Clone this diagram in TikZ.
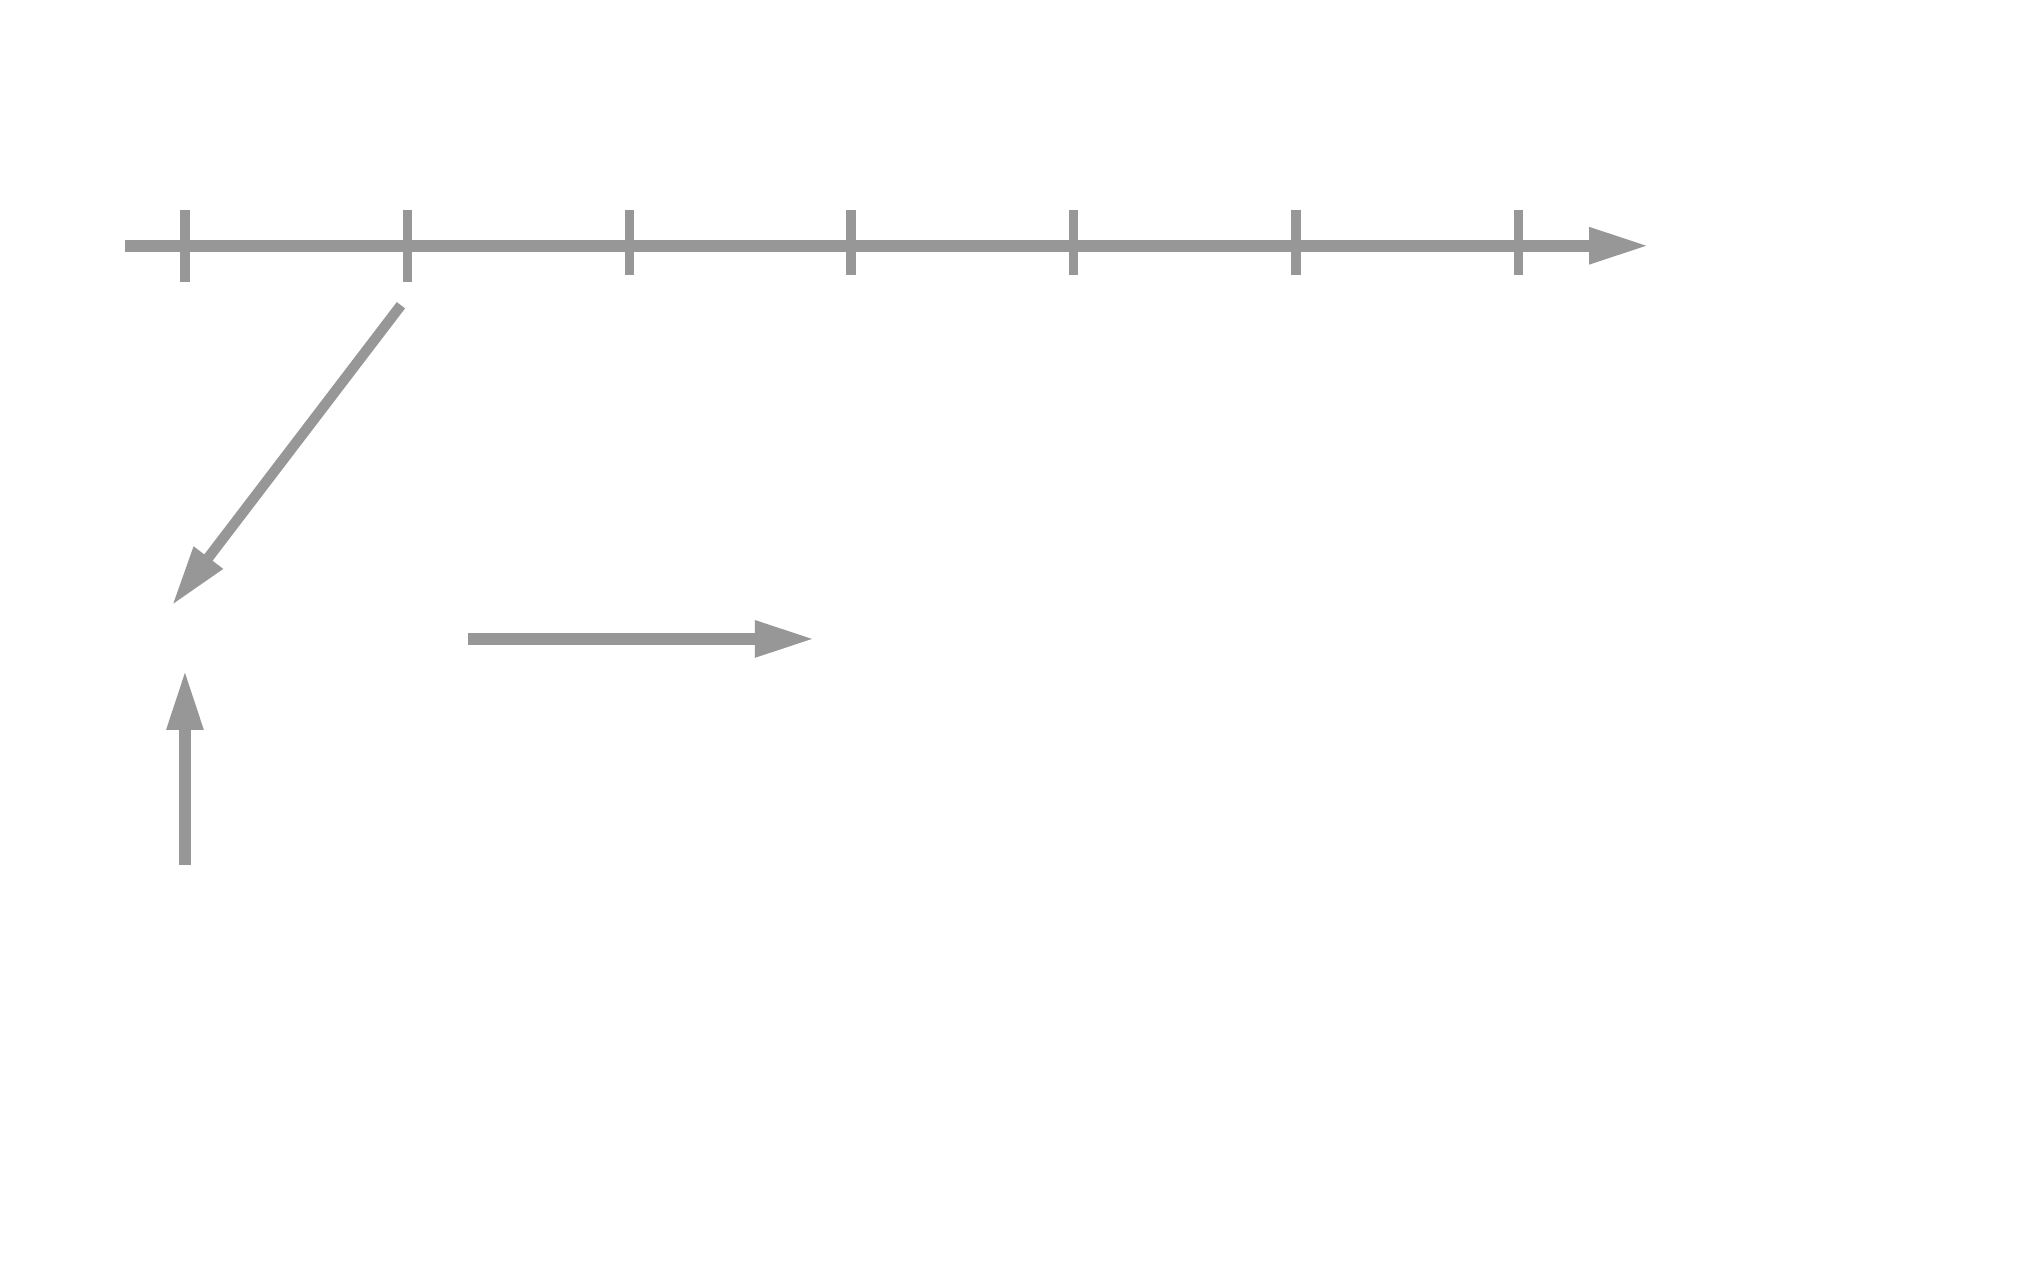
\documentclass[tikz,border=0pt]{standalone}
\usepackage{fontspec}
\setmainfont{Liberation Sans}
\usetikzlibrary{arrows.meta}
\definecolor{linegray}{RGB}{151,151,151}
\begin{document}
\begin{tikzpicture}[x=0.64668pt,y=-0.64668pt,
  conn/.style={draw=linegray,line width=5.85pt,-{Triangle[length=30pt,width=17pt]}},
  thinconn/.style={conn,line width=5.2pt},
  tickline/.style={draw=linegray,line width=4.6pt},
  lbl/.style={text=white,inner sep=0pt,font=\fontsize{32}{30.5}\selectfont},
  smalllbl/.style={lbl,font=\fontsize{29}{30}\selectfont}]
\useasboundingbox[fill=white] (0,0) rectangle (1568,992.76);
% time axis
\coordinate (axisstart) at (97,190);
\coordinate (axisend) at (1275,190);
\draw[conn] (axisstart) -- (axisend);
\foreach \x/\b in {143/218,315/218,487/213,658/213,830/213,1002/213,1174/213}
  \draw[tickline] (\x,162) -- (\x,\b);
% labels
\node[lbl,anchor=north west,align=left] (timesig) at (1310,117) {Time\\Signal\\(seconds)};
\node[smalllbl,anchor=base] (ticktwo) at (313,150) {2};
\node[lbl,anchor=base west] (map) at (70,514) {Signal.map2};
\node[lbl,anchor=base west] (view) at (636,507) {view 2 "Hello"};
\node[lbl,anchor=north west,align=left] (hello) at (105,665) {"Hello"\\Signal};
\node[lbl,anchor=base west] (timetwo) at (242,354) {Time 2};
% connectors
\coordinate (tickfoot) at (310,236);
\coordinate (mapin) at (133,468);
\draw[thinconn] (tickfoot) -- (mapin);
\coordinate (mapout) at (362,494);
\coordinate (viewin) at (630,494);
\draw[conn] (mapout) -- (viewin);
\coordinate (hellotop) at (143,669);
\coordinate (mapbelow) at (143,518);
\draw[conn] (hellotop) -- (mapbelow);
\end{tikzpicture}
\end{document}
